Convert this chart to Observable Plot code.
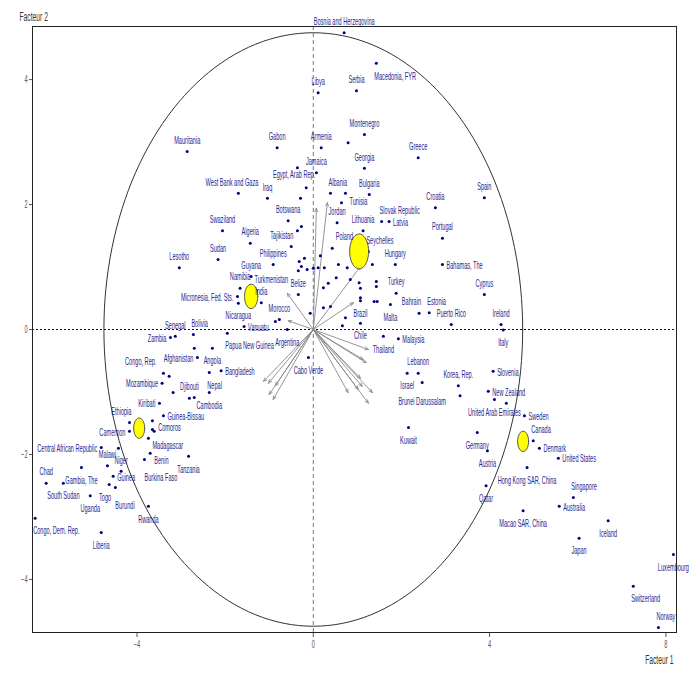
<!DOCTYPE html>
<html><head><meta charset="utf-8">
<script src="https://cdn.jsdelivr.net/npm/d3@7"></script>
<script src="https://cdn.jsdelivr.net/npm/@observablehq/plot@0.6"></script>
<style>body{margin:0;background:#fff}</style>
</head><body><div id="chart"></div>
<script>
const countryNames = ["Bosnia and Herzegovina","Macedonia, FYR","Serbia","Libya","Montenegro","Armenia","Gabon","Greece","Mauritania","Georgia","Jamaica","Egypt, Arab Rep.","Albania","Bulgaria","Iraq","West Bank and Gaza","Tunisia","Croatia","Spain","Slovak Republic","Jordan","Lithuania","Latvia","Portugal","Poland","Seychelles","Hungary","Bahamas, The","Cyprus","Turkey","Bahrain","Estonia","Malta","Puerto Rico","Ireland","Italy","Slovenia","New Zealand","Sweden","Canada","Denmark","United States","Germany","Austria","Qatar","Hong Kong SAR, China","Singapore","Australia","Macao SAR, China","Iceland","Japan","Luxembourg","Switzerland","Norway","Brazil","Chile","Thailand","Malaysia","Lebanon","Israel","Korea, Rep.","Brunei Darussalam","United Arab Emirates","Kuwait","Cabo Verde","Argentina","Morocco","Vanuatu","Nicaragua","Papua New Guinea","Micronesia, Fed. Sts.","Namibia","Guyana","Turkmenistan","India","Belize","Philippines","Tajikistan","Algeria","Botswana","Swaziland","Sudan","Lesotho","Senegal","Bolivia","Zambia","Afghanistan","Angola","Congo, Rep.","Mozambique","Djibouti","Cambodia","Nepal","Bangladesh","Kiribati","Ethiopia","Guinea-Bissau","Cameroon","Comoros","Madagascar","Benin","Tanzania","Burkina Faso","Central African Republic","Malawi","Niger","Guinea","Togo","Burundi","Chad","Gambia, The","South Sudan","Uganda","Rwanda","Congo, Dem. Rep.","Liberia"];
const countryX = [0.70,1.43,0.98,0.11,1.16,0.18,-0.82,2.38,-2.86,1.16,0.07,-0.16,0.39,1.27,-1.04,-1.70,0.73,2.77,3.88,1.55,0.54,1.13,1.72,2.93,0.86,1.25,1.86,2.93,3.88,1.88,2.40,2.63,1.75,3.13,4.26,4.31,4.08,3.97,4.79,4.99,5.13,5.56,3.72,3.95,3.92,4.85,5.90,5.58,4.76,6.69,6.03,8.17,7.26,7.83,1.07,1.07,1.59,1.93,2.38,2.13,3.29,2.47,4.11,2.16,-0.11,-0.59,-0.77,-1.57,-1.70,-1.95,-1.72,-1.66,-1.41,-1.29,-1.18,-0.34,-0.91,-0.50,-1.43,-0.57,-2.06,-2.16,-3.04,-3.13,-2.72,-3.24,-2.63,-2.29,-3.40,-3.43,-2.81,-2.36,-2.36,-2.09,-3.49,-4.17,-3.40,-4.17,-3.61,-3.74,-3.70,-2.83,-3.83,-4.81,-4.67,-4.36,-4.54,-4.63,-4.49,-6.06,-5.26,-5.67,-5.06,-3.74,-6.31,-4.81];
const countryY = [4.75,4.26,3.82,3.79,3.12,2.91,2.91,2.75,2.85,2.58,2.51,2.27,2.18,2.16,2.10,2.18,2.18,1.95,2.11,1.73,1.71,1.58,1.73,1.46,1.30,1.25,1.04,1.04,0.56,0.58,0.26,0.27,0.40,0.08,0.08,-0.01,-0.67,-0.99,-1.38,-1.78,-1.90,-2.06,-1.65,-1.94,-2.50,-2.21,-2.69,-2.83,-2.90,-3.06,-3.34,-3.60,-4.11,-4.77,0.46,0.10,-0.11,-0.15,-0.70,-0.70,-0.90,-0.85,-1.12,-1.57,-0.45,0.00,0.16,0.05,0.42,-0.06,0.53,0.66,0.85,0.62,0.43,0.56,1.04,1.33,1.38,1.74,1.58,1.12,0.99,-0.11,-0.08,-0.13,-0.45,-0.30,-0.70,-0.86,-1.10,-1.01,-0.69,-0.66,-1.18,-1.49,-1.38,-1.63,-1.63,-1.74,-1.98,-2.03,-2.08,-1.89,-2.18,-2.27,-2.35,-2.48,-2.53,-2.46,-2.21,-2.46,-2.66,-2.83,-3.02,-3.25];
const labelSide = ["t","br","t","t","t","t","t","t","t","t","t","tlx","tr","t","t","tlw","rb","t","t","tr","t","t","r","t","tl","tr","t","r","t","t","tl","tr","b","t","t","b","r","r","r","tr","r","r","b","b","b","b","tr","r","b","b","b","b","br","tr","b","b","b","r","t","b","t","bb","b","b","b","b","t","r","b","br","l","t","t","tr","t","t","t","tl","t","t","t","t","t","t","tr","l","l","b","tl2","l","t","b","br","r","l","tl","r","l","rt","rb","rb","b","bbr","l","t","t","r","bl","bbr","t","b","b","b","b","br","b"];

const otherX = [0.79,-0.36,-0.29,0.64,-0.27,-0.36,0.43,0.16,1.34,0.11,0.25,0.57,0.77,0.52,0.84,0.34,1.04,0.23,1.43,1.43,1.07,1.07,-0.20,-0.32,-0.27,-0.34,-0.14,0.00,-0.07,0.23,0.39,0.73,0.66,1.38,1.45,-0.86,3.33,4.38,-4.42,-3.18,-2.70,-2.70,-3.27,-3.65,-3.65];
const otherY = [2.99,2.59,2.10,2.03,1.65,1.58,1.30,1.18,1.04,0.99,0.99,1.04,0.99,0.83,0.80,0.74,0.75,0.67,0.77,0.69,0.66,0.51,1.14,1.09,1.01,0.94,0.96,0.98,0.26,0.35,0.37,0.19,0.06,0.45,0.45,0.13,-1.06,-1.18,-1.90,-1.01,-1.09,-0.30,-0.75,-1.46,-1.60];

const arrowX = [0.07,0.32,0.91,1.07,-0.59,-0.57,1.25,1.13,1.20,1.07,1.11,1.02,1.34,0.79,1.25,-1.13,-1.02,-0.86,-1.00,-0.91];
const arrowY = [1.94,2.03,0.43,1.01,0.58,0.14,-0.32,-0.48,-0.53,-0.78,-0.91,-0.96,-1.01,-1.01,-1.18,-0.83,-0.86,-0.90,-1.04,-1.12];

const clusterX = [-1.41,1.04,-3.95,4.76];
const clusterY = [0.53,1.25,-1.58,-1.79];
const clusterSpread = [0.15,0.215,0.125,0.125];

const xTicks = [-4,0,4,8];
const yTicks = [-4,-2,0,2,4];
const circleRadius = 4.75;
const xLabel = "Facteur 1", yLabel = "Facteur 2";

// tables built from the arrays
const countries = countryNames.map((n,i)=>({name:n,x:countryX[i],y:countryY[i],side:labelSide[i]}));
const others = otherX.map((x,i)=>({x,y:otherY[i]}));
const arrows = arrowX.map((x,i)=>({x,y:arrowY[i]}));
const circle = d3.range(0,361,2).map(a=>({x:circleRadius*Math.cos(a*Math.PI/180),y:circleRadius*Math.sin(a*Math.PI/180)}));
const ellipses = clusterX.flatMap((cx,i)=>d3.range(0,361,10).map(a=>({c:i,x:cx+clusterSpread[i]*Math.cos(a*Math.PI/180),y:clusterY[i]+clusterSpread[i]*1.3*Math.sin(a*Math.PI/180)})));

const sides = {
  t:{dx:0,dy:-11,a:"middle"}, b:{dx:0,dy:13,a:"middle"}, bb:{dx:0,dy:19,a:"middle"},
  l:{dx:-4,dy:1,a:"end"}, r:{dx:4,dy:1,a:"start"},
  rt:{dx:4,dy:-4,a:"start"}, rb:{dx:4,dy:8,a:"start"},
  tl:{dx:2,dy:-11,a:"end"}, tl2:{dx:-7,dy:-11,a:"end"}, tlx:{dx:9,dy:-13,a:"end"}, tlw:{dx:20,dy:-11,a:"end"},
  tr:{dx:-2,dy:-11,a:"start"},
  bl:{dx:2,dy:13,a:"end"}, br:{dx:-2,dy:13,a:"start"}, bbr:{dx:0,dy:18,a:"start"}
};
const labelColor = "#262690";
const labelMarks = Object.entries(sides).map(([k,s]) =>
  Plot.text(countries.filter(d=>d.side===k), {x:"x", y:"y", text:"name", dx:s.dx, dy:s.dy, textAnchor:s.a, fill:labelColor, fontSize:10}));

const chart = Plot.plot({
  width:700, height:677,
  marginTop:26, marginRight:24, marginBottom:45, marginLeft:32,
  style:{fontFamily:"'Liberation Sans', Arial, sans-serif", fontSize:"10px", color:"#555", background:"#fff"},
  x:{domain:[-6.37,8.24], ticks:xTicks, tickSize:5, tickPadding:3, label:null},
  y:{domain:[-4.85,4.85], ticks:yTicks, tickSize:3, tickPadding:2, label:null},
  marks:[
    Plot.line(circle, {x:"x", y:"y", stroke:"#333", strokeWidth:1}),
    Plot.ruleX([0], {stroke:"#777", strokeDasharray:"4,3", strokeWidth:1}),
    Plot.ruleY([0], {stroke:"#111", strokeDasharray:"2,2", strokeWidth:1}),
    Plot.arrow(arrows, {x1:d=>0, y1:d=>0, x2:"x", y2:"y", stroke:"#8a8a8a", strokeWidth:0.9, headLength:6, headAngle:45}),
    Plot.dot(others, {x:"x", y:"y", r:1.5, fill:"#00007a", stroke:null}),
    Plot.dot(countries, {x:"x", y:"y", r:1.5, fill:"#00007a", stroke:null}),
    Plot.line(ellipses, {x:"x", y:"y", z:"c", fill:"#ffff00", stroke:"#555", strokeWidth:1}),
    ...labelMarks,
    Plot.text([yLabel], {frameAnchor:"top-left", text:d=>d, dx:-13, dy:-14, fontSize:12, fill:"#333"}),
    Plot.text([xLabel], {frameAnchor:"bottom-right", text:d=>d, dx:-3, dy:31, fontSize:12, fill:"#333"}),
    Plot.frame({stroke:"#222", strokeWidth:1})
  ]
});
document.getElementById("chart").appendChild(chart);
// condense all text horizontally, keeping each anchor in place
const SX = 0.56;
chart.querySelectorAll("text").forEach(t=>{
  const tr = t.getAttribute("transform") || "";
  if (tr.includes("translate")) t.setAttribute("transform", tr + ` scale(${SX},1)`);
  else {
    const x = +(t.getAttribute("x")||0);
    t.setAttribute("x", x/SX);
    t.setAttribute("transform", (tr?tr+" ":"") + `scale(${SX},1)`);
  }
});
</script>
</body></html>
